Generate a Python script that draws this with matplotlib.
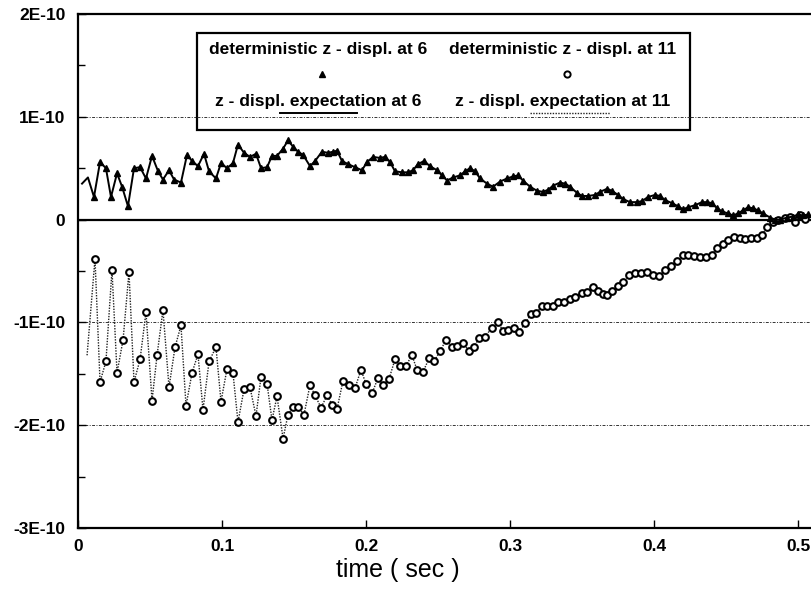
import matplotlib
matplotlib.use("Agg")
import matplotlib.pyplot as plt
from matplotlib.lines import Line2D
from matplotlib.patches import Rectangle
from matplotlib.ticker import FixedLocator

plt.rcParams['font.family'] = ['Liberation Sans', 'DejaVu Sans']

# deterministic z-displ. at 6 (triangles, solid line) -- time (s), value (1E-10)
t6 = [0.0028, 0.0069, 0.0111, 0.0153, 0.0194, 0.0229, 0.0271, 0.0306, 0.0347, 0.0389,
      0.0431, 0.0472, 0.0514, 0.0556, 0.0590, 0.0632, 0.0667, 0.0715, 0.0757, 0.0792,
      0.0833, 0.0875, 0.0910, 0.0958, 0.0993, 0.1035, 0.1076, 0.1111, 0.1153, 0.1194,
      0.1236, 0.1271, 0.1313, 0.1347, 0.1382, 0.1424, 0.1458, 0.1493, 0.1528, 0.1563,
      0.1611, 0.1646, 0.1694, 0.1736, 0.1771, 0.1799, 0.1833, 0.1875, 0.1924, 0.1972,
      0.2007, 0.2049, 0.2097, 0.2132, 0.2167, 0.2201, 0.2250, 0.2292, 0.2326, 0.2361,
      0.2403, 0.2444, 0.2493, 0.2528, 0.2563, 0.2604, 0.2653, 0.2688, 0.2722, 0.2757,
      0.2792, 0.2840, 0.2882, 0.2931, 0.2979, 0.3021, 0.3056, 0.3090, 0.3139, 0.3188,
      0.3229, 0.3264, 0.3299, 0.3347, 0.3382, 0.3417, 0.3465, 0.3500, 0.3542, 0.3590,
      0.3625, 0.3674, 0.3708, 0.3750, 0.3785, 0.3833, 0.3882, 0.3917, 0.3958, 0.4007,
      0.4042, 0.4076, 0.4125, 0.4167, 0.4201, 0.4236, 0.4285, 0.4333, 0.4368, 0.4403,
      0.4438, 0.4472, 0.4514, 0.4549, 0.4583, 0.4618, 0.4653, 0.4688, 0.4722, 0.4757,
      0.4806, 0.4840, 0.4875, 0.4924, 0.4965, 0.5000, 0.5035, 0.5069]
z6 = [0.35, 0.41, 0.22, 0.56, 0.50, 0.22, 0.45, 0.32, 0.13, 0.50,
      0.51, 0.40, 0.62, 0.47, 0.39, 0.48, 0.39, 0.36, 0.63, 0.57,
      0.52, 0.64, 0.47, 0.40, 0.55, 0.50, 0.55, 0.73, 0.65, 0.61,
      0.64, 0.50, 0.51, 0.62, 0.62, 0.69, 0.77, 0.71, 0.66, 0.63,
      0.52, 0.57, 0.66, 0.65, 0.66, 0.67, 0.57, 0.54, 0.51, 0.48,
      0.56, 0.61, 0.60, 0.61, 0.56, 0.47, 0.46, 0.46, 0.48, 0.54,
      0.57, 0.52, 0.48, 0.43, 0.38, 0.41, 0.43, 0.47, 0.50, 0.47,
      0.40, 0.35, 0.32, 0.37, 0.40, 0.42, 0.43, 0.38, 0.32, 0.28,
      0.27, 0.29, 0.33, 0.36, 0.35, 0.32, 0.26, 0.23, 0.23, 0.24,
      0.27, 0.30, 0.28, 0.24, 0.20, 0.17, 0.17, 0.18, 0.22, 0.24,
      0.23, 0.19, 0.16, 0.13, 0.10, 0.12, 0.14, 0.17, 0.17, 0.16,
      0.11, 0.08, 0.06, 0.04, 0.06, 0.09, 0.12, 0.11, 0.09, 0.06,
      0.02, 0.00, 0.00, 0.02, 0.03, 0.05, 0.04, 0.05]

# deterministic z-displ. at 11 (circles, dotted line)
t11 = [0.0063, 0.0118, 0.0153, 0.0194, 0.0236, 0.0271, 0.0313, 0.0354, 0.0389, 0.0431,
       0.0472, 0.0514, 0.0549, 0.0590, 0.0632, 0.0674, 0.0715, 0.0750, 0.0792, 0.0833,
       0.0868, 0.0910, 0.0958, 0.0993, 0.1035, 0.1076, 0.1111, 0.1153, 0.1194, 0.1236,
       0.1271, 0.1313, 0.1347, 0.1382, 0.1424, 0.1458, 0.1493, 0.1528, 0.1569, 0.1611,
       0.1646, 0.1688, 0.1729, 0.1764, 0.1799, 0.1840, 0.1882, 0.1924, 0.1965, 0.2000,
       0.2042, 0.2083, 0.2118, 0.2160, 0.2201, 0.2236, 0.2278, 0.2319, 0.2354, 0.2396,
       0.2438, 0.2472, 0.2514, 0.2556, 0.2597, 0.2632, 0.2674, 0.2715, 0.2750, 0.2785,
       0.2826, 0.2875, 0.2917, 0.2951, 0.2986, 0.3028, 0.3063, 0.3104, 0.3146, 0.3181,
       0.3222, 0.3257, 0.3299, 0.3333, 0.3375, 0.3417, 0.3451, 0.3500, 0.3535, 0.3576,
       0.3611, 0.3646, 0.3674, 0.3708, 0.3750, 0.3785, 0.3826, 0.3868, 0.3910, 0.3951,
       0.3993, 0.4035, 0.4076, 0.4118, 0.4160, 0.4201, 0.4236, 0.4278, 0.4319, 0.4361,
       0.4403, 0.4438, 0.4479, 0.4514, 0.4556, 0.4597, 0.4632, 0.4674, 0.4715, 0.4750,
       0.4785, 0.4826, 0.4861, 0.4910, 0.4944, 0.4979, 0.5014, 0.5049]
z11 = [-1.32, -0.38, -1.58, -1.38, -0.49, -1.49, -1.17, -0.51, -1.58, -1.36,
       -0.90, -1.76, -1.32, -0.88, -1.63, -1.24, -1.03, -1.81, -1.49, -1.31,
       -1.85, -1.38, -1.24, -1.77, -1.45, -1.49, -1.97, -1.65, -1.63, -1.91,
       -1.53, -1.60, -1.95, -1.72, -2.13, -1.90, -1.82, -1.82, -1.90, -1.61,
       -1.71, -1.83, -1.71, -1.80, -1.84, -1.57, -1.61, -1.64, -1.46, -1.60,
       -1.69, -1.54, -1.61, -1.55, -1.36, -1.42, -1.42, -1.32, -1.46, -1.48,
       -1.35, -1.38, -1.28, -1.17, -1.24, -1.23, -1.20, -1.28, -1.24, -1.15,
       -1.14, -1.05, -1.00, -1.08, -1.07, -1.05, -1.09, -1.01, -0.92, -0.91,
       -0.84, -0.84, -0.84, -0.80, -0.80, -0.77, -0.75, -0.71, -0.70, -0.66,
       -0.69, -0.72, -0.73, -0.69, -0.65, -0.61, -0.54, -0.52, -0.52, -0.51,
       -0.54, -0.55, -0.49, -0.45, -0.40, -0.34, -0.34, -0.35, -0.36, -0.36,
       -0.34, -0.28, -0.24, -0.20, -0.17, -0.18, -0.19, -0.18, -0.18, -0.15,
       -0.07, -0.02, 0.00, 0.02, 0.03, -0.02, 0.04, 0.01]

scale = 1e-10
yticks = [2, 1, 0, -1, -2, -3]
ytick_labels = ['2E-10', '1E-10', '0', '-1E-10', '-2E-10', '-3E-10']
xticks = [0, 0.1, 0.2, 0.3, 0.4, 0.5]
xtick_labels = ['0', '0.1', '0.2', '0.3', '0.4', '0.5']
legend_labels = ['deterministic z - displ. at 6', 'deterministic z - displ. at 11',
                 'z - displ. expectation at 6', 'z - displ. expectation at 11']

fig = plt.figure(figsize=(8.11, 5.91), dpi=100)
ax = fig.add_axes([78/811, 1-528/591, 733/811, 514/591])

y6 = [v*scale for v in z6]
y11 = [v*scale for v in z11]

grid_style = dict(color='#333333', lw=0.7, ls=(0, (3, 1.5, 1, 1.5)))
for g in [1, -1, -2]:
    ax.axhline(g*scale, zorder=1, **grid_style)
ax.axhline(0, color='black', lw=1.6, zorder=1)

ax.plot(t11, y11, color='#222222', lw=1.0, ls=(0, (1, 1)), zorder=2)
ax.plot(t11[1:], y11[1:], ls='none', marker='o', ms=4.8, mfc='white', mec='black', mew=1.5, zorder=3)
ax.plot(t6, y6, color='black', lw=1.4, zorder=4)
ax.plot(t6[2:], y6[2:], ls='none', marker='^', ms=5, mfc='black', mec='black', zorder=5)

ax.set_xlim(0, 0.509)
ax.set_ylim(-3*scale, 2*scale)
ax.set_yticks([v*scale for v in yticks])
ax.set_yticklabels(ytick_labels)
ax.yaxis.set_minor_locator(FixedLocator([v*scale for v in [1.5, 0.5, -0.5, -1.5, -2.5]]))
ax.set_xticks(xticks)
ax.set_xticklabels(xtick_labels)
ax.tick_params(axis='both', which='both', direction='in', width=1.0)
ax.tick_params(axis='both', which='major', length=6, labelsize=12.5)
ax.tick_params(axis='y', which='major', pad=9)
ax.tick_params(axis='x', which='major', pad=8)
ax.tick_params(axis='y', which='minor', length=5)
for lab in ax.get_xticklabels() + ax.get_yticklabels():
    lab.set_fontweight('bold')
ax.spines['right'].set_visible(False)
for s in ['left', 'bottom', 'top']:
    ax.spines[s].set_linewidth(1.6)
ax.set_xlabel('time ( sec )', fontsize=18)
ax.xaxis.set_label_coords(0.436, -0.058)

# legend box
lx0, lx1, ly0, ly1 = 0.1623, 0.835, 0.7743, 0.963
ax.add_patch(Rectangle((lx0, ly0), lx1-lx0, ly1-ly0, transform=ax.transAxes,
                       fill=True, facecolor='white', edgecolor='black', lw=1.6, zorder=6))
c1, c2 = 0.3274, 0.6617
fs = 12.5
for (cx, cy, lab) in [(c1, 0.930, legend_labels[0]), (c2, 0.930, legend_labels[1]),
                      (c1, 0.829, legend_labels[2]), (c2, 0.829, legend_labels[3])]:
    ax.text(cx, cy, lab, transform=ax.transAxes, ha='center', va='center',
            fontsize=fs, fontweight='bold', zorder=7)
ax.add_line(Line2D([0.3329], [0.884], transform=ax.transAxes, ls='none', marker='^', ms=5,
                   color='black', zorder=7))
ax.add_line(Line2D([0.6671], [0.884], transform=ax.transAxes, ls='none', marker='o', ms=4.5,
                   mfc='white', mec='black', mew=1.4, zorder=7))
ax.add_line(Line2D([0.2756, 0.3806], [0.808, 0.808], transform=ax.transAxes, color='black',
                   lw=1.4, zorder=7))
ax.add_line(Line2D([0.6166, 0.7258], [0.808, 0.808], transform=ax.transAxes, color='#222222',
                   lw=1.0, ls=(0, (1, 1)), zorder=7))
ax.axhline(1*scale, xmin=lx0, xmax=lx1, zorder=7, **grid_style)

fig.savefig('out.png', dpi=100)
